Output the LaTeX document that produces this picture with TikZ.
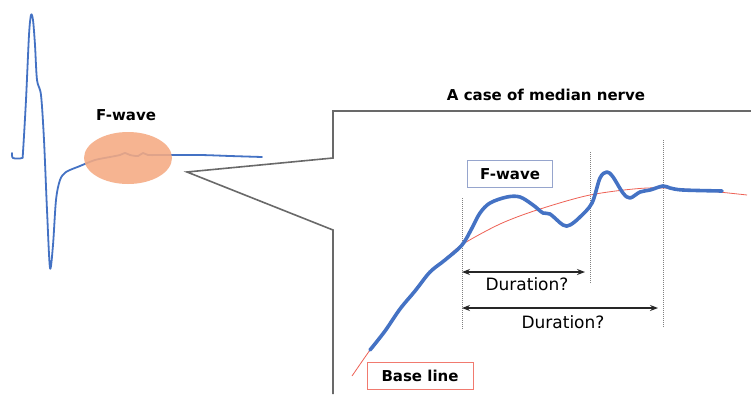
\documentclass[tikz,border=0pt]{standalone}
\usepackage{fontspec}
\setmainfont{DejaVu Sans}
\usepackage{xcolor}
\definecolor{Col1}{RGB}{68,114,196}
\definecolor{Col2}{RGB}{238,98,86}
\definecolor{Col3}{RGB}{245,170,130}
\definecolor{Col4}{RGB}{105,105,105}
\definecolor{Col5}{RGB}{150,165,205}
\usetikzlibrary{arrows.meta}
\tikzstyle{Wave}=[draw=Col1,line width=2pt,line cap=round,line join=round]
\tikzstyle{Fit}=[draw=Col2,line width=0.8pt]
\tikzstyle{Frame}=[draw=Col4,line width=1.6pt]
\tikzstyle{Guide}=[draw=Col4!85,densely dotted,line width=1pt]
\tikzstyle{Span}=[draw=black!85,line width=1.1pt,
{Stealth[length=8pt,width=6pt]}-{Stealth[length=8pt,width=6pt]}]
\tikzstyle{NodeST}=[font=\fontsize{15}{17}\selectfont\bfseries]
\tikzstyle{NodeDur}=[font=\fontsize{17}{19}\selectfont]
\tikzstyle{Tag}=[NodeST,draw,line width=1pt,fill=white,inner sep=0pt,
minimum height=27pt]

\begin{document}
\begin{tikzpicture}[x=1pt,y=-1pt]
        \useasboundingbox[fill=white](0,0)rectangle(751,394);
        % whole response
        \draw[Wave,line width=1.8pt]plot[smooth,tension=0.5]coordinates{
            (12,153)(13,158)(22,158)(23,152)(26,100)(29,35)(31,15)(33,20)
            (35,45)(37,80)(41,95)(44,140)(47,210)(50,268)(53,245)(56,200)
            (60,180)(66,172)(80,166)(95,160)(110,157)(120,155)(125,153)
            (130,155)(138,156)(143,153)(148,155)(160,155)(200,155)(230,156)
            (262,157)};
        \fill[Col3,opacity=0.88](128,158)ellipse[x radius=44,y radius=26];
        \node[NodeST](fl)at(126,115){F-wave};
        % zoom frame
        \coordinate(tip)at(187,172);
        \coordinate(u1)at(333,158);
        \coordinate(u2)at(333,111);
        \coordinate(ur)at(751,111);
        \coordinate(l1)at(333,230);
        \coordinate(lb)at(333,394);
        \draw[Frame](ur)--(u2)--(u1)--(tip)--(l1)--(lb);
        \node[NodeST](title)at(546,95){A case of median nerve};
        % guides
        \coordinate(g1t)at(462,198);
        \coordinate(g1b)at(462,330);
        \coordinate(g2t)at(590,152);
        \coordinate(g2b)at(590,283);
        \coordinate(g3t)at(663,140);
        \coordinate(g3b)at(663,328);
        \draw[Guide](g1t)--(g1b);
        \draw[Guide](g2t)--(g2b);
        \draw[Guide](g3t)--(g3b);
        % base line and F-wave
        \draw[Fit]plot[smooth]coordinates{
            (352,376)(370,350)(385,330)(400,310)(415,290)(430,273)(445,259)
            (463,244)(500,224)(537,210)(590,195)(647,188)(697,190)(747,195)};
        \draw[Wave,line width=3.6pt]plot[smooth,tension=0.55]coordinates{
            (370,350)(385,331)(400,309)(415,291)(430,272)(445,260)(462,245)
            (472,228)(480,213)(490,203)(507,197)(520,197)(533,205)(543,213)
            (550,214)(563,225)(570,225)(580,217)(592,203)(600,178)(607,172)
            (613,177)(623,193)(630,198)(640,192)(650,190)(663,186)(670,188)
            (683,190)(722,191)};
        \node[Tag,draw=Col5,minimum width=85pt](fw)at(510,174){F-wave};
        \node[Tag,draw=Col2!85,minimum width=106pt](bl)at(420,376){Base line};
        % durations
        \coordinate(a1l)at(462,272);
        \coordinate(a1r)at(585,272);
        \coordinate(a2l)at(462,308);
        \coordinate(a2r)at(658,308);
        \draw[Span](a1l)--(a1r);
        \draw[Span](a2l)--(a2r);
        \node[NodeDur](d1)at(527,284){Duration?};
        \node[NodeDur](d2)at(563,322){Duration?};
    \end{tikzpicture}
\end{document}
